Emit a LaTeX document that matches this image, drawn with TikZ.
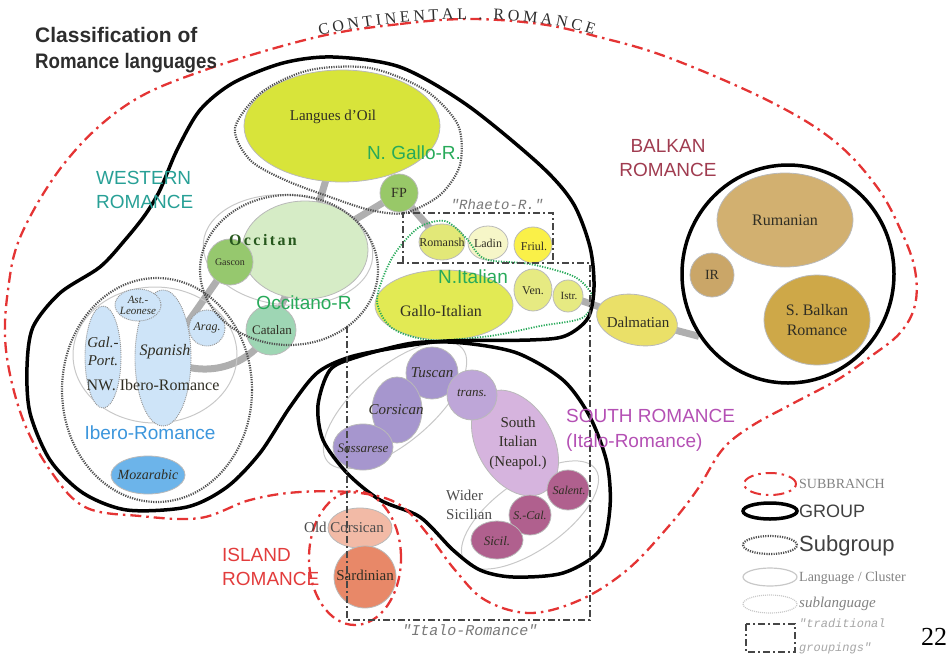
\documentclass[tikz,border=0pt]{standalone}
\usepackage{graphicx}
\usepackage{fontspec}
\setmainfont{Liberation Serif}
\setsansfont{Liberation Sans}
\setmonofont{Liberation Mono}
\usetikzlibrary{shapes.geometric,decorations.text}
\pgfdeclarelayer{background}
\pgfsetlayers{background,main}
\newcommand{\myfs}[2][1.2]{\fontsize{#2}{\fpeval{#1*#2}}\selectfont}
\definecolor{oilc}{RGB}{216,228,58}
\definecolor{fpc}{RGB}{152,200,104}
\definecolor{occc}{RGB}{214,236,198}
\definecolor{gasc}{RGB}{150,200,110}
\definecolor{catc}{RGB}{158,214,180}
\definecolor{ibc}{RGB}{206,228,248}
\definecolor{mozc}{RGB}{108,180,234}
\definecolor{romc}{RGB}{226,232,120}
\definecolor{ladc}{RGB}{246,246,200}
\definecolor{fric}{RGB}{250,240,72}
\definecolor{gitc}{RGB}{226,234,84}
\definecolor{venc}{RGB}{230,234,130}
\definecolor{dalc}{RGB}{234,224,104}
\definecolor{rumc}{RGB}{210,176,112}
\definecolor{irc}{RGB}{202,166,104}
\definecolor{sbc}{RGB}{206,168,72}
\definecolor{tusc}{RGB}{166,150,206}
\definecolor{trc}{RGB}{190,166,216}
\definecolor{sitc}{RGB}{214,180,222}
\definecolor{sicc}{RGB}{176,96,142}
\definecolor{ococ}{RGB}{242,186,166}
\definecolor{sarc}{RGB}{232,136,104}
\definecolor{redl}{RGB}{228,52,52}
\definecolor{subg}{RGB}{80,80,80}
\definecolor{langl}{RGB}{185,185,185}
\definecolor{clul}{RGB}{200,200,200}
\definecolor{tradg}{RGB}{70,70,70}
\definecolor{linkg}{RGB}{175,175,175}
\definecolor{labt}{RGB}{48,46,36}
\definecolor{titc}{RGB}{45,45,45}
\definecolor{westc}{RGB}{40,160,150}
\definecolor{greent}{RGB}{40,170,90}
\definecolor{ibt}{RGB}{60,150,220}
\definecolor{balt}{RGB}{160,60,80}
\definecolor{soutt}{RGB}{180,80,180}
\definecolor{islt}{RGB}{226,60,60}
\definecolor{gitxt}{RGB}{120,120,120}
\definecolor{legt}{RGB}{130,130,130}
\tikzset{
  lang/.style={ellipse, draw=langl, line width=0.8pt, inner sep=0pt, fill=#1},
  sublang/.style={ellipse, draw=langl!80!black, dash pattern=on 1pt off 1pt, line width=0.9pt, inner sep=0pt, fill=#1},
  cluster/.style={ellipse, draw=clul, line width=1pt, inner sep=0pt},
  subgrp/.style={draw=subg, line width=2.2pt, dash pattern=on 1.2pt off 1.2pt},
  nitdot/.style={draw=greent, line width=1.8pt, dash pattern=on 1.2pt off 1.4pt},
  grp/.style={draw=black, line width=3.5pt},
  brdash/.style={draw=redl, line width=2.3pt, dash pattern=on 11pt off 5pt on 2.5pt off 5pt},
  trad/.style={draw=tradg, line width=1.6pt, dash pattern=on 7pt off 3pt on 2pt off 3pt},
  lnk/.style={draw=linkg, line width=7pt},
  lbl/.style={font={\myfs{15}}, text=labt, inner sep=0pt, align=center},
  ilbl/.style={font={\itshape\myfs{13}}, text=labt, inner sep=0pt, align=center},
  slbl/.style={font={\sffamily\myfs[1.3]{19}}, inner sep=0pt, align=left},
}
\begin{document}
\begin{tikzpicture}[x=1pt,y=-1pt]
\useasboundingbox (0,0) rectangle (949,659);

% ---------- clusters (language / cluster outlines) ----------
\node[cluster, minimum width=170pt, minimum height=110pt, rotate=-5] (clocc) at (288,250) {};
\node[cluster, minimum width=164pt, minimum height=136pt] (clnw) at (155,355) {};
\node[cluster, minimum width=176pt, minimum height=76pt, rotate=40] (cltus) at (395,405) {};
\node[cluster, minimum width=160pt, minimum height=70pt, rotate=35] (clsic) at (530,515) {};

% ---------- languages ----------
\node[lang=oilc, minimum width=196pt, minimum height=112pt] (oil) at (342,126) {};
\node[lang=fpc, minimum size=38pt] (fp) at (399,193) {};
\node[lang=occc, minimum width=126pt, minimum height=98pt] (occ) at (305,250) {};
\node[lang=gasc, minimum size=46pt] (gas) at (230,262) {};
\node[lang=catc, minimum size=50pt] (cat) at (271,330) {};
\node[sublang=ibc, minimum width=56pt, minimum height=136pt] (spa) at (163,358) {};
\node[sublang=ibc, minimum width=36pt, minimum height=102pt] (gal) at (103,357) {};
\node[sublang=ibc, minimum width=46pt, minimum height=32pt] (ast) at (138,305) {};
\node[sublang=ibc, minimum size=36pt] (arag) at (207,328) {};
\node[lang=mozc, minimum width=74pt, minimum height=38pt] (moz) at (148,475) {};

\node[lang=romc, minimum width=46pt, minimum height=36pt] (rom) at (442,242) {};
\node[lang=ladc, minimum width=40pt, minimum height=34pt] (lad) at (488,243) {};
\node[lang=fric, minimum width=38pt, minimum height=36pt] (fri) at (533,245) {};
\node[lang=gitc, minimum width=138pt, minimum height=70pt] (git) at (444,305) {};
\node[lang=venc, minimum width=38pt, minimum height=42pt] (ven) at (533,290) {};
\node[lang=venc, minimum width=30pt, minimum height=32pt] (istr) at (568,296) {};
\node[lang=dalc, minimum width=82pt, minimum height=50pt, rotate=-12] (dal) at (637,320) {};

\node[lang=rumc, minimum width=136pt, minimum height=94pt] (rum) at (785,220) {};
\node[lang=irc, minimum size=44pt] (ir) at (712,275) {};
\node[lang=sbc, minimum width=106pt, minimum height=90pt] (sb) at (817,320) {};

\node[lang=tusc, minimum size=52pt] (tus) at (432,373) {};
\node[lang=tusc, minimum width=50pt, minimum height=66pt] (cor) at (397,410) {};
\node[lang=tusc, minimum width=60pt, minimum height=46pt] (sas) at (363,447) {};
\node[lang=sitc, minimum width=76pt, minimum height=114pt, rotate=30] (sit) at (515,443) {};
\node[lang=trc, minimum size=50pt] (tra) at (472,395) {};
\node[lang=sicc, minimum width=42pt, minimum height=40pt] (sal) at (568,490) {};
\node[lang=sicc, minimum width=42pt, minimum height=40pt] (scal) at (530,515) {};
\node[lang=sicc, minimum width=52pt, minimum height=38pt] (sic) at (497,540) {};

\node[lang=ococ, minimum width=64pt, minimum height=40pt] (oco) at (360,528) {};
\node[lang=sarc, minimum size=62pt] (sar) at (365,577) {};

% ---------- subgroups ----------
\draw[subgrp] plot[smooth cycle] coordinates {(235,128) (262,92) (310,70) (370,68) (425,90) (458,125) (460,165) (440,195) (405,213) (370,210) (330,197) (285,180) (250,160)};
\draw[subgrp] (289,270) ellipse [x radius=89pt, y radius=75pt];
\draw[subgrp] (157,390) ellipse [x radius=95pt, y radius=112pt];
\draw[nitdot] plot[smooth cycle] coordinates {(377,300) (392,258) (418,228) (445,221) (466,238) (485,259) (530,264) (575,277) (593,298) (582,318) (540,326) (490,336) (430,340) (392,328)};

% ---------- groups ----------
\draw[grp] plot[smooth cycle] coordinates {(33,327) (60,293) (100,267) (125,240) (145,215) (160,190) (177,150) (200,110) (233,83) (283,63) (333,57) (400,67) (467,105) (540,165) (573,203) (590,247) (594,287) (588,318) (565,336) (530,340) (447,341) (400,347) (350,357) (317,373) (290,407) (260,453) (227,487) (187,507) (127,510) (83,493) (50,460) (30,413) (27,367)};
\draw[grp] plot[smooth cycle] coordinates {(330,370) (357,357) (413,343) (463,343) (517,353) (563,380) (590,417) (607,463) (610,507) (600,550) (563,573) (513,577) (480,570) (453,550) (420,517) (380,500) (347,473) (323,440) (318,405)};
\node[grp, ellipse, minimum width=212pt, minimum height=218pt, inner sep=0pt] (bal) at (788,274) {};

% ---------- subbranches ----------
\draw[brdash] plot[smooth cycle, tension=0.6] coordinates {(317,37) (400,24) (470,19) (540,24) (595,36) (667,57) (767,100) (833,140) (877,187) (902,233) (915,270) (915,305) (900,333) (870,357) (837,380) (790,405) (750,427) (722,450) (697,490) (668,527) (627,570) (580,600) (530,613) (485,600) (455,570) (430,537) (400,505) (360,493) (300,492) (250,500) (200,518) (140,516) (85,507) (50,470) (22,417) (6,350) (8,290) (22,233) (67,160) (128,104) (205,70)};
\draw[brdash] (355,558) ellipse [x radius=46pt, y radius=67pt];
\path[decorate, decoration={text along path, text={|\myfs{16}\color{titc}|CONTINENTAL . ROMANCE}, text align={fit to path}, raise=1pt}] (320,37) .. controls (390,18) and (530,12) .. (593,36);

% ---------- traditional groupings ----------
\draw[trad] (397,263) -- (590,263) -- (590,620) -- (347,620) -- (347,325);
\draw[trad] (403,263) -- (403,213) -- (553,213) -- (553,263);

% ---------- links ----------
\begin{pgfonlayer}{background}
\draw[lnk] (oil.center) -- (occ.center);
\draw[lnk] (fp.center) -- (occ.center);
\draw[lnk] (fp.center) -- (rom.center);
\draw[lnk] (gas.center) -- (spa.center);
\draw[lnk] (spa.center) .. controls (200,378) and (245,372) .. (cat.center);
\draw[lnk] (cat.center) -- (occ.center);
\draw[lnk] (istr.center) -- (dal.center);
\draw[lnk] (dal.center) -- (bal.215);
\end{pgfonlayer}

% ---------- language labels ----------
\node[lbl] (toil) at (333,117) {Langues d'Oil};
\node[lbl, font={\myfs{14}}] (tfp) at (399,193) {FP};
\node[lbl, font={\bfseries\myfs{16}\addfontfeature{LetterSpace=15}}, text=labt!80!green] (tocc) at (263,240) {Occitan};
\node[lbl, font={\myfs{10}}] (tgas) at (230,262) {Gascon};
\node[lbl, font={\myfs{13}}] (tcat) at (272,330) {Catalan};
\node[ilbl, font={\itshape\myfs[1.0]{11}}] (tast) at (138,305) {Ast.-\\Leonese};
\node[ilbl, font={\itshape\myfs[1.2]{15}}] (tgal) at (103,351) {Gal.-\\Port.};
\node[ilbl, font={\itshape\myfs{16}}] (tspa) at (165,352) {Spanish};
\node[ilbl, font={\itshape\myfs{12}}] (tarag) at (207,328) {Arag.};
\node[lbl, font={\myfs{16}}] (tnw) at (153,385) {NW. Ibero-Romance};
\node[ilbl, font={\itshape\myfs{14}}] (tmoz) at (148,475) {Mozarabic};

\node[lbl, font={\myfs{12}}] (trom) at (442,242) {Romansh};
\node[lbl, font={\myfs{12}}] (tlad) at (488,243) {Ladin};
\node[lbl, font={\myfs{12}}] (tfri) at (534,246) {Friul.};
\node[lbl, font={\myfs{16}}] (tgit) at (441,311) {Gallo-Italian};
\node[lbl, font={\myfs{12}}] (tven) at (533,291) {Ven.};
\node[lbl, font={\myfs{11}}] (tistr) at (569,296) {Istr.};
\node[lbl, font={\myfs{15}}] (tdal) at (638,322) {Dalmatian};

\node[lbl, font={\myfs{16}}] (trum) at (785,220) {Rumanian};
\node[lbl, font={\myfs{14}}] (tir) at (712,275) {IR};
\node[lbl, font={\myfs[1.2]{16}}] (tsb) at (817,320) {S. Balkan\\Romance};

\node[ilbl, font={\itshape\myfs{15}}] (ttus) at (432,373) {Tuscan};
\node[ilbl, font={\itshape\myfs{15}}] (tcor) at (396,410) {Corsican};
\node[ilbl, font={\itshape\myfs{13}}] (tsas) at (363,448) {Sassarese};
\node[ilbl, font={\itshape\myfs{13}}] (ttra) at (472,393) {trans.};
\node[lbl, font={\myfs[1.3]{15}}] (tsit) at (518,443) {South\\Italian\\(Neapol.)};
\node[ilbl, font={\itshape\myfs{12}}] (tsal) at (569,490) {Salent.};
\node[ilbl, font={\itshape\myfs{12}}] (tscal) at (530,515) {S.-Cal.};
\node[ilbl, font={\itshape\myfs{13}}] (tsic) at (497,541) {Sicil.};
\node[lbl, font={\myfs[1.3]{15}}, align=left, anchor=west, text=black!70] (twid) at (446,505) {Wider\\Sicilian};

\node[lbl, font={\myfs{15}}, text=black!70] (toco) at (344,527) {Old Corsican};
\node[lbl, font={\myfs{15}}] (tsar) at (365,575) {Sardinian};

% ---------- group labels ----------
\node[anchor=north west, font={\sffamily\bfseries\myfs[1.25]{21}}, text=titc, align=left, inner sep=0pt] (title) at (35,27) {Classification of\\\scalebox{0.89}[1]{Romance languages}};
\node[slbl, anchor=west, text=westc] (twest) at (96,190) {WESTERN\\ROMANCE};
\node[slbl, align=center, text=balt] (tbal) at (668,158) {BALKAN\\ROMANCE};
\node[slbl, anchor=west, text=soutt] (tsouth) at (566,430) {SOUTH ROMANCE\\(Italo-Romance)};
\node[slbl, anchor=west, text=islt] (tisl) at (222,567) {ISLAND\\ROMANCE};
\node[slbl, text=greent] (tngr) at (414,153) {N. Gallo-R.};
\node[slbl, text=greent] (tocr) at (304,303) {Occitano-R};
\node[slbl, text=greent] (tnit) at (473,277) {N.Italian};
\node[slbl, text=ibt] (tibr) at (150,433) {Ibero-Romance};
\node[font={\ttfamily\itshape\myfs{14}}, text=gitxt, inner sep=0pt] (trh) at (497,204) {"Rhaeto-R."};
\node[font={\ttfamily\itshape\myfs{15}}, text=gitxt, inner sep=0pt] (tit) at (470,630) {"Italo-Romance"};

% ---------- legend ----------
\draw[brdash, line width=2pt] (770,484) ellipse [x radius=26pt, y radius=11pt];
\draw[grp] (770,511) ellipse [x radius=27pt, y radius=8pt];
\draw[subgrp] (770,545) ellipse [x radius=27pt, y radius=9pt];
\draw[draw=clul, line width=1.2pt] (770,577) ellipse [x radius=27pt, y radius=9pt];
\draw[draw=clul, line width=1.2pt, dash pattern=on 1pt off 1pt] (770,604) ellipse [x radius=27pt, y radius=9pt];
\draw[trad] (746,624) rectangle (795,652);
\node[anchor=west, inner sep=0pt, font={\myfs{14}}, text=legt] (lg1) at (799,484) {SUBBRANCH};
\node[anchor=west, inner sep=0pt, font={\sffamily\myfs{18}}, text=black!75] (lg2) at (799,511) {GROUP};
\node[anchor=west, inner sep=0pt, font={\sffamily\myfs{22}}, text=black!75] (lg3) at (799,546) {Subgroup};
\node[anchor=west, inner sep=0pt, font={\myfs{14}}, text=legt] (lg4) at (799,578) {Language / Cluster};
\node[anchor=west, inner sep=0pt, font={\itshape\myfs{15}}, text=legt] (lg5) at (799,604) {sublanguage};
\node[anchor=north west, inner sep=0pt, font={\ttfamily\itshape\myfs[2.0]{12}}, text=black!35, align=left] (lg6) at (799,619) {"traditional\\groupings"};
\node[inner sep=0pt, font={\myfs{26}}] (pg) at (934,637) {22};
\end{tikzpicture}
\end{document}
